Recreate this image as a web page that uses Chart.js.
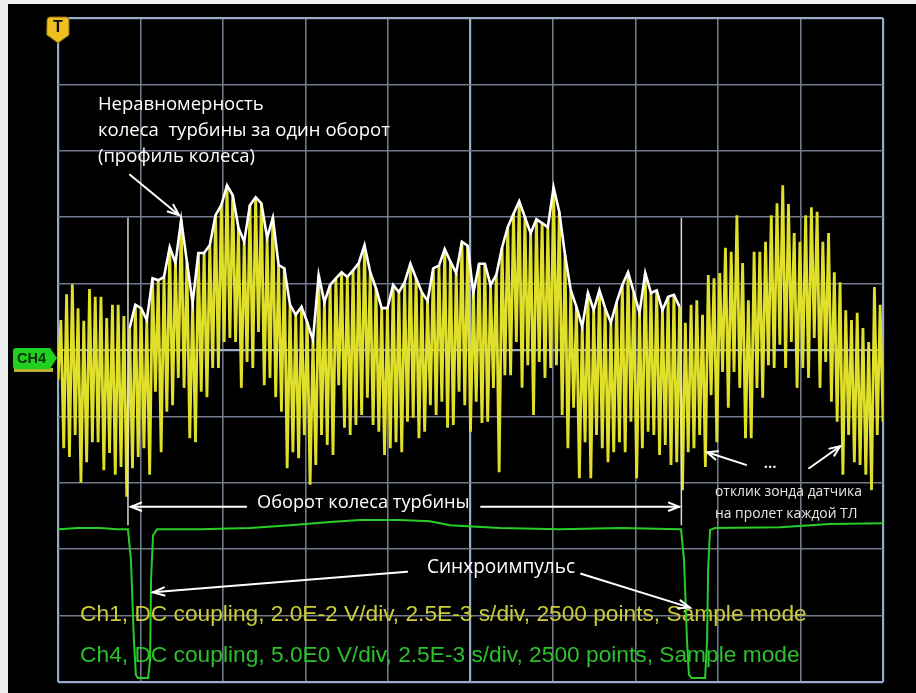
<!DOCTYPE html>
<html>
<head>
<meta charset="utf-8">
<script src="https://cdn.jsdelivr.net/npm/chart.js@4.4.1/dist/chart.umd.min.js"></script>
<style>
  html, body { margin: 0; padding: 0; background: #efefef; }
  canvas { display: block; }
</style>
</head>
<body>
<canvas id="scope" width="916" height="693"></canvas>
<script>
// ---------- DATA (screen divisions; time in ms, 2.5 ms/div) ----------
// Ch1: successive blade-passing maxima (peaks) and minima (troughs), in divisions
const ch1Peaks = [
  0.45,0.84,0.99,0.63,0.44,0.92,0.80,0.80,0.48,0.68,
  0.68,0.51,0.33,0.68,0.63,0.45,1.08,1.05,1.10,1.55,
  1.31,1.96,1.33,0.71,1.46,1.46,1.58,2.03,2.18,2.48,
  2.33,1.84,1.63,2.18,2.30,2.21,1.69,1.99,1.28,1.23,
  0.68,0.53,0.65,0.42,0.15,1.13,0.72,0.98,1.08,1.17,
  1.10,1.20,1.31,1.58,1.17,0.93,0.63,0.63,0.98,0.87,
  1.02,1.30,1.08,0.87,0.74,1.23,1.27,1.52,1.33,1.16,
  1.63,1.57,0.86,1.30,1.30,0.98,1.13,1.54,1.85,2.05,
  2.24,2.00,1.76,1.97,1.91,1.85,2.45,2.08,1.43,0.90,
  0.65,0.35,0.86,0.60,0.90,0.63,0.41,0.72,0.98,1.17,
  0.87,0.56,1.16,0.86,0.90,0.60,0.80,0.83,0.65,0.41,
  0.68,0.75,0.53,1.13,1.08,1.16,1.54,1.48,2.03,1.31,
  0.75,1.48,1.48,1.63,2.03,2.21,2.48,2.20,1.76,1.63,
  2.03,2.15,2.08,1.63,1.76,1.17,1.02,0.60,0.45,0.56,
  0.33,0.12,0.95,0.68
];
const ch1Troughs = [
  -0.45,
  -1.48,-1.61,-1.28,-2.00,-1.69,-1.39,-1.39,-1.81,-1.55,-1.88,
  -1.76,-2.21,-1.78,-1.61,-1.48,-1.88,-0.63,-1.54,-0.93,-0.83,
  -0.42,-0.57,-1.33,-1.39,-0.63,-0.71,-0.27,-0.27, 0.12, 0.18,
   0.12,-0.57,-0.18,-0.27, 0.27,-0.53,-0.42,-0.71,-0.93,-1.78,
  -1.54,-1.63,-1.28,-2.03,-1.73,-1.28,-1.43,-1.58,-0.53,-1.17,
  -1.28,-1.13,-0.98,-0.72,-1.13,-1.23,-1.58,-1.48,-1.39,-1.54,
  -1.08,-1.02,-1.33,-1.23,-0.83,-0.98,-0.78,-1.17,-1.13,-0.63,
  -0.83,-1.23,-0.78,-1.10,-1.08,-0.57,-1.84,-0.38,-0.38, 0.12,
  -0.57,-0.23,-0.98,-0.18,-0.42,-0.27,-0.23,-0.98,-1.48,-0.87,
  -1.93,-1.39,-1.93,-1.28,-1.48,-1.69,-1.54,-1.39,-1.54,-1.08,
  -1.93,-1.48,-1.23,-1.28,-1.58,-1.43,-1.73,-1.69,-2.11,-1.54,
  -1.48,-1.28,-1.76,-0.68,-1.39,-0.33,-0.87,-0.33,-0.57,-1.33,
  -1.33,-0.57,-0.72,-0.23,-0.27, 0.08,-0.27, 0.12,-0.57,-0.27,
  -0.42, 0.18,-0.57,-0.18,-0.78,-1.08,-1.88,-1.28,-1.69,-1.73,
  -1.88,-2.11,-1.28,-1.08
];
// Peaks covered by the hand-drawn envelope (one wheel revolution), 1-based
const envelopeFirstPeak = 13;
const envelopeLastPeak = 109;

// Ch4 (sync channel) trace: time (ms) and level (divisions)
const ch4Times  = [0.00, 0.60, 1.27, 1.80, 2.12, 2.21, 2.30, 2.36, 2.42, 2.73, 2.79, 2.82, 2.88, 3.00, 4.30, 5.82, 7.03, 8.24, 9.15, 10.36, 11.27, 11.88, 13.39, 15.21, 17.03, 18.88, 18.97, 19.06, 19.12, 19.20, 19.61, 19.67, 19.70, 19.76, 19.91, 21.88, 23.39, 25.00];
const ch4Levels = [-2.70,-2.68,-2.68,-2.70,-2.70,-3.16,-4.37,-4.89,-4.94,-4.94,-4.67,-3.46,-2.79,-2.70,-2.70,-2.68,-2.64,-2.59,-2.56,-2.56,-2.58,-2.64,-2.68,-2.70,-2.68,-2.70,-3.16,-4.37,-4.89,-4.94,-4.94,-4.37,-3.31,-2.71,-2.68,-2.67,-2.62,-2.61];

// Revolution markers (white verticals at sync): time (ms)
const revMarkTimes = [2.12, 18.89];
const revMarkTop = 1.99, revMarkBottom = -2.64;
const ch4GroundLevel = -0.12;
const triggerTime = 0;

// Axis: 10 x 10 divisions
const timeMin = 0, timeMax = 25, timeStep = 2.5;
const divMin = -5, divMax = 5, divStep = 1;

// Texts
const noteLines = ['Неравномерность', 'колеса  турбины за один оборот', '(профиль колеса)'];
const revText = 'Оборот колеса турбины';
const syncText = 'Синхроимпульс';
const probeLines = ['отклик зонда датчика', 'на пролет каждой ТЛ'];
const dotsText = '...';
const statusLines = [
  'Ch1, DC coupling, 2.0E-2 V/div, 2.5E-3 s/div, 2500 points, Sample mode',
  'Ch4, DC coupling, 5.0E0 V/div, 2.5E-3 s/div, 2500 points, Sample mode'
];

// ---------- BUILD SERIES ----------
const ch1Seq = [];
for (let i = 0; i < ch1Peaks.length; i++) {
  ch1Seq.push(ch1Troughs[i]);
  ch1Seq.push(ch1Peaks[i]);
}
ch1Seq.push(ch1Troughs[ch1Peaks.length]);
const sampleStep = (timeMax - timeMin) / (ch1Seq.length - 1);
const ch1Data = ch1Seq.map((v, i) => ({ x: timeMin + i * sampleStep, y: v }));
const envData = [];
for (let k = envelopeFirstPeak; k <= envelopeLastPeak; k++) {
  envData.push({ x: timeMin + (2 * k - 1) * sampleStep, y: ch1Peaks[k - 1] });
}
const ch4Data = ch4Times.map((t, i) => ({ x: t, y: ch4Levels[i] }));

// ---------- DECORATION PLUGIN ----------
function fitFont(ctx, text, family, weight, width) {
  ctx.font = weight + ' 100px ' + family;
  const w = ctx.measureText(text).width;
  return weight + ' ' + (100 * width / w).toFixed(2) + 'px ' + family;
}
function arrow(ctx, x1, y1, x2, y2, head, ang) {
  ctx.beginPath(); ctx.moveTo(x1, y1); ctx.lineTo(x2, y2); ctx.stroke();
  const a = Math.atan2(y2 - y1, x2 - x1);
  ctx.beginPath();
  ctx.moveTo(x2 - head * Math.cos(a - ang), y2 - head * Math.sin(a - ang));
  ctx.lineTo(x2, y2);
  ctx.lineTo(x2 - head * Math.cos(a + ang), y2 - head * Math.sin(a + ang));
  ctx.stroke();
}

const layout = {
  note: { x1: 1.21, x2: 10.06, ys: [3.69, 3.30, 2.91] },
  profileArrow: [2.18, 2.64, 3.67, 2.03],
  rev: { x1: 6.03, x2: 12.48, y: -2.30, lineY: -2.36, a: 2.21, b: 5.70, c: 12.82, d: 18.82 },
  sync: { x1: 11.18, x2: 15.67, y: -3.28 },
  syncArrows: [[10.58, -3.34, 2.88, -3.65], [15.85, -3.37, 19.15, -3.88]],
  probe: { x1: 19.91, x2: 24.36, ys: [-2.14, -2.47] },
  probeArrows: [[20.85, -1.73, 19.67, -1.54], [22.76, -1.78, 23.70, -1.45]],
  dots: { x: 21.58, y: -1.72 },
  status: [{ x1: 0.67, x2: 22.70, y: -3.99 }, { x1: 0.67, x2: 22.48, y: -4.61 }]
};

const scopeDecor = {
  id: 'scopeDecor',
  beforeDraw(chart) {
    const ctx = chart.ctx;
    ctx.save();
    ctx.fillStyle = '#000';
    ctx.fillRect(8, 4, chart.width - 8, chart.height - 4);
    ctx.restore();
  },
  beforeDatasetsDraw(chart) {
    const ctx = chart.ctx, X = chart.scales.x, Y = chart.scales.y;
    ctx.save();
    ctx.textBaseline = 'middle';
    ctx.textAlign = 'left';
    const colors = ['rgb(204,204,58)', 'rgb(44,192,44)'];
    statusLines.forEach((t, i) => {
      const s = layout.status[i];
      const x1 = X.getPixelForValue(s.x1), x2 = X.getPixelForValue(s.x2);
      ctx.font = fitFont(ctx, t, '"Liberation Sans", Arial, sans-serif', 'normal', x2 - x1);
      ctx.fillStyle = colors[i];
      ctx.fillText(t, x1, Y.getPixelForValue(s.y));
    });
    ctx.restore();
  },
  afterDatasetsDraw(chart) {
    const ctx = chart.ctx, X = chart.scales.x, Y = chart.scales.y, ca = chart.chartArea;
    const px = v => X.getPixelForValue(v), py = v => Y.getPixelForValue(v);
    ctx.save();
    // revolution markers
    ctx.strokeStyle = 'rgba(225,225,225,0.95)';
    ctx.lineWidth = 1.5;
    revMarkTimes.forEach(t => {
      ctx.beginPath();
      ctx.moveTo(px(t), py(revMarkTop));
      ctx.lineTo(px(t), py(revMarkBottom));
      ctx.stroke();
    });
    // arrows
    ctx.strokeStyle = '#ffffff';
    ctx.lineWidth = 2;
    ctx.lineCap = 'round';
    const pa = layout.profileArrow;
    arrow(ctx, px(pa[0]), py(pa[1]), px(pa[2]), py(pa[3]), 12, 0.38);
    const r = layout.rev;
    arrow(ctx, px(r.b), py(r.lineY), px(r.a), py(r.lineY), 11, 0.38);
    arrow(ctx, px(r.c), py(r.lineY), px(r.d), py(r.lineY), 11, 0.38);
    layout.syncArrows.forEach(a => arrow(ctx, px(a[0]), py(a[1]), px(a[2]), py(a[3]), 12, 0.35));
    layout.probeArrows.forEach(a => arrow(ctx, px(a[0]), py(a[1]), px(a[2]), py(a[3]), 11, 0.4));
    // texts
    ctx.fillStyle = '#ffffff';
    ctx.textBaseline = 'middle';
    ctx.textAlign = 'left';
    const fam = '"Open Sans", "Noto Sans", sans-serif';
    const nf = fitFont(ctx, noteLines[1], fam, 'normal', px(layout.note.x2) - px(layout.note.x1));
    ctx.font = nf;
    noteLines.forEach((t, i) => ctx.fillText(t, px(layout.note.x1), py(layout.note.ys[i])));
    ctx.font = fitFont(ctx, revText, fam, 'normal', px(r.x2) - px(r.x1));
    ctx.fillText(revText, px(r.x1), py(r.y));
    ctx.font = fitFont(ctx, syncText, fam, 'normal', px(layout.sync.x2) - px(layout.sync.x1));
    ctx.fillText(syncText, px(layout.sync.x1), py(layout.sync.y));
    ctx.fillStyle = '#e6e6e6';
    const pf = fitFont(ctx, probeLines[0], fam, 'normal', px(layout.probe.x2) - px(layout.probe.x1));
    ctx.font = pf;
    probeLines.forEach((t, i) => ctx.fillText(t, px(layout.probe.x1), py(layout.probe.ys[i])));
    ctx.textAlign = 'center';
    ctx.font = 'bold 15px ' + fam;
    ctx.fillText(dotsText, px(layout.dots.x), py(layout.dots.y));

    // trigger marker "T"
    const tx = px(triggerTime), tt = ca.top;
    ctx.beginPath();
    ctx.moveTo(tx - 11, tt + 2);
    ctx.quadraticCurveTo(tx - 11, tt - 1, tx - 8, tt - 1);
    ctx.lineTo(tx + 8, tt - 1);
    ctx.quadraticCurveTo(tx + 11, tt - 1, tx + 11, tt + 2);
    ctx.lineTo(tx + 11, tt + 17);
    ctx.lineTo(tx, tt + 25);
    ctx.lineTo(tx - 11, tt + 17);
    ctx.closePath();
    ctx.fillStyle = '#f0c020';
    ctx.fill();
    ctx.strokeStyle = '#8a6810';
    ctx.lineWidth = 1;
    ctx.stroke();
    ctx.fillStyle = '#111';
    ctx.font = 'bold 16px "Liberation Sans", Arial, sans-serif';
    ctx.textAlign = 'center';
    ctx.fillText('T', tx, tt + 10);

    // CH4 ground marker
    const gy = py(ch4GroundLevel), tip = ca.left - 1;
    ctx.fillStyle = '#b8b830';
    ctx.fillRect(14, gy + 10, tip - 18, 4);
    ctx.beginPath();
    ctx.moveTo(16, gy - 10);
    ctx.lineTo(tip - 7, gy - 10);
    ctx.lineTo(tip, gy);
    ctx.lineTo(tip - 7, gy + 11);
    ctx.lineTo(16, gy + 11);
    ctx.quadraticCurveTo(13, gy + 11, 13, gy + 8);
    ctx.lineTo(13, gy - 7);
    ctx.quadraticCurveTo(13, gy - 10, 16, gy - 10);
    ctx.closePath();
    ctx.fillStyle = '#1fd01f';
    ctx.fill();
    ctx.fillStyle = '#0b2e0b';
    ctx.textAlign = 'left';
    ctx.font = fitFont(ctx, 'CH4', '"Liberation Sans", Arial, sans-serif', 'bold', 29);
    ctx.fillText('CH4', 17, gy + 1);
    ctx.restore();
  }
};

// ---------- CHART ----------
function gridColor(ctx, lo, hi, mid) {
  const v = ctx.tick ? ctx.tick.value : null;
  return (v === lo || v === hi || Math.abs(v - mid) < 1e-9) ? 'rgb(150,172,200)' : 'rgb(112,122,138)';
}
function gridWidth(ctx, lo, hi, mid) {
  const v = ctx.tick ? ctx.tick.value : null;
  return (v === lo || v === hi || Math.abs(v - mid) < 1e-9) ? 2.2 : 1.6;
}

new Chart(document.getElementById('scope'), {
  type: 'line',
  data: {
    datasets: [
      { label: 'envelope', data: envData, borderColor: '#ffffff', borderWidth: 2.6, pointRadius: 0, tension: 0, fill: false },
      { label: 'Ch1', data: ch1Data, borderColor: 'rgb(224,224,42)', borderWidth: 2.8, pointRadius: 0, tension: 0, fill: false },
      { label: 'Ch4', data: ch4Data, borderColor: 'rgb(40,205,40)', borderWidth: 2, pointRadius: 0, tension: 0, fill: false }
    ]
  },
  options: {
    responsive: false,
    animation: false,
    events: [],
    layout: { padding: { left: 58, top: 18, right: 33, bottom: 11 } },
    plugins: { legend: { display: false }, tooltip: { enabled: false }, title: { display: false } },
    scales: {
      x: {
        type: 'linear', min: timeMin, max: timeMax,
        ticks: { display: false, stepSize: timeStep },
        grid: {
          drawTicks: false,
          color: c => gridColor(c, timeMin, timeMax, (timeMin + timeMax) / 2),
          lineWidth: c => gridWidth(c, timeMin, timeMax, (timeMin + timeMax) / 2)
        },
        border: { display: false },
        afterFit(s) { s.height = 0; }
      },
      y: {
        type: 'linear', min: divMin, max: divMax,
        ticks: { display: false, stepSize: divStep },
        grid: {
          drawTicks: false,
          color: c => gridColor(c, divMin, divMax, 0),
          lineWidth: c => gridWidth(c, divMin, divMax, 0)
        },
        border: { display: false },
        afterFit(s) { s.width = 0; }
      }
    }
  },
  plugins: [scopeDecor]
});
</script>
</body>
</html>
